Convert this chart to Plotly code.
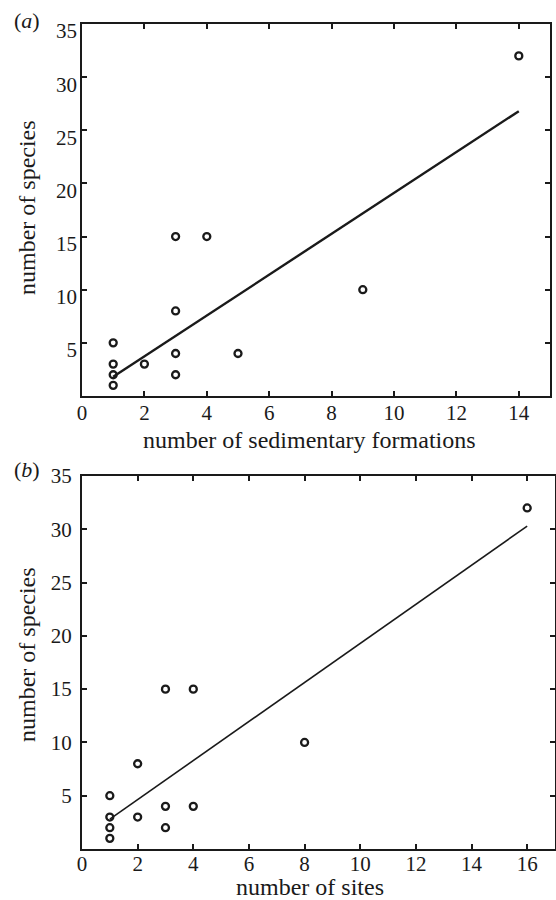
import plotly.graph_objects as go

# ---- data ----
a_formations = [1, 1, 1, 1, 2, 3, 3, 3, 3, 4, 5, 9, 14]
a_species = [1, 2, 3, 5, 3, 2, 4, 8, 15, 15, 4, 10, 32]
a_fit_x = [1, 14]
a_fit_y = [1.8, 26.8]

b_sites = [1, 1, 1, 1, 2, 2, 3, 3, 3, 4, 4, 8, 16]
b_species = [1, 2, 3, 5, 3, 8, 2, 4, 15, 4, 15, 10, 32]
b_fit_x = [1, 16]
b_fit_y = [2.8, 30.3]

y_ticks = [5, 10, 15, 20, 25, 30, 35]
a_x_ticks = [0, 2, 4, 6, 8, 10, 12, 14]
b_x_ticks = [0, 2, 4, 6, 8, 10, 12, 14, 16]

W, H = 556, 900
FONT = "Liberation Serif"
INK = "#1a1a1a"

fig = go.Figure()

marker = dict(symbol="circle-open", size=7, color=INK, line=dict(width=2.3, color=INK))

fig.add_trace(go.Scatter(x=a_formations, y=a_species, mode="markers", marker=marker,
                         xaxis="x", yaxis="y", showlegend=False, hoverinfo="skip"))
fig.add_trace(go.Scatter(x=a_fit_x, y=a_fit_y, mode="lines", line=dict(color=INK, width=2.4),
                         xaxis="x", yaxis="y", showlegend=False, hoverinfo="skip"))
fig.add_trace(go.Scatter(x=b_sites, y=b_species, mode="markers", marker=marker,
                         xaxis="x2", yaxis="y2", showlegend=False, hoverinfo="skip"))
fig.add_trace(go.Scatter(x=b_fit_x, y=b_fit_y, mode="lines", line=dict(color=INK, width=1.6),
                         xaxis="x2", yaxis="y2", showlegend=False, hoverinfo="skip"))
# empty trace so the label-only overlay axis of panel (a) is drawn
fig.add_trace(go.Scatter(x=[], y=[], xaxis="x", yaxis="y3", showlegend=False))

def px_x(p):
    return p / W

def px_y(p):
    return 1 - p / H

tick_font = dict(family=FONT, size=21, color=INK)
axis_common = dict(showline=True, linecolor=INK, linewidth=2, mirror="ticks",
                   ticks="inside", ticklen=5, tickwidth=1.5, tickcolor=INK,
                   showgrid=False, zeroline=False, automargin=False,
                   tickfont=tick_font)

# panel (a) y tick labels sit slightly below their ticks in the reference
a_label_shift = 0.66  # in data units (~7 px)

fig.update_layout(
    width=W, height=H,
    margin=dict(l=0, r=0, t=0, b=0, pad=0, autoexpand=False),
    paper_bgcolor="white", plot_bgcolor="white",
    xaxis=dict(domain=[px_x(82), px_x(550)], range=[0, 15], anchor="y",
               tickvals=a_x_ticks, ticklabelstandoff=-3, **axis_common),
    yaxis=dict(domain=[px_y(396), px_y(24)], range=[0, 35], anchor="x",
               tickvals=y_ticks, showticklabels=False, **axis_common),
    yaxis3=dict(overlaying="y", anchor="x", side="left",
                range=[a_label_shift, 35 + a_label_shift],
                tickvals=y_ticks, showline=False, ticks="", showgrid=False,
                zeroline=False, automargin=False, tickfont=tick_font,
                ticklabelstandoff=4),
    xaxis2=dict(domain=[px_x(82), px_x(555)], range=[0, 17], anchor="y2",
                tickvals=b_x_ticks, ticklabelstandoff=-5, **axis_common),
    yaxis2=dict(domain=[px_y(849), px_y(476)], range=[0, 35], anchor="x2",
                tickvals=y_ticks, ticklabelstandoff=4, **axis_common),
)

title_font = dict(family=FONT, size=24, color=INK)
label_font = dict(family=FONT, size=22, color=INK)
annots = [
    dict(text="number of sedimentary formations", x=px_x(309), y=px_y(440), font=title_font),
    dict(text="number of species", x=px_x(27), y=px_y(208), textangle=-90, font=title_font),
    dict(text="number of sites", x=px_x(310), y=px_y(887), font=title_font),
    dict(text="number of species", x=px_x(27), y=px_y(655), textangle=-90, font=title_font),
    dict(text="(<i>a</i>)", x=px_x(27), y=px_y(21), font=label_font),
    dict(text="(<i>b</i>)", x=px_x(27), y=px_y(469), font=label_font),
]
for a in annots:
    fig.add_annotation(xref="paper", yref="paper", showarrow=False,
                       xanchor="center", yanchor="middle", **a)

fig.write_html("out.html")
